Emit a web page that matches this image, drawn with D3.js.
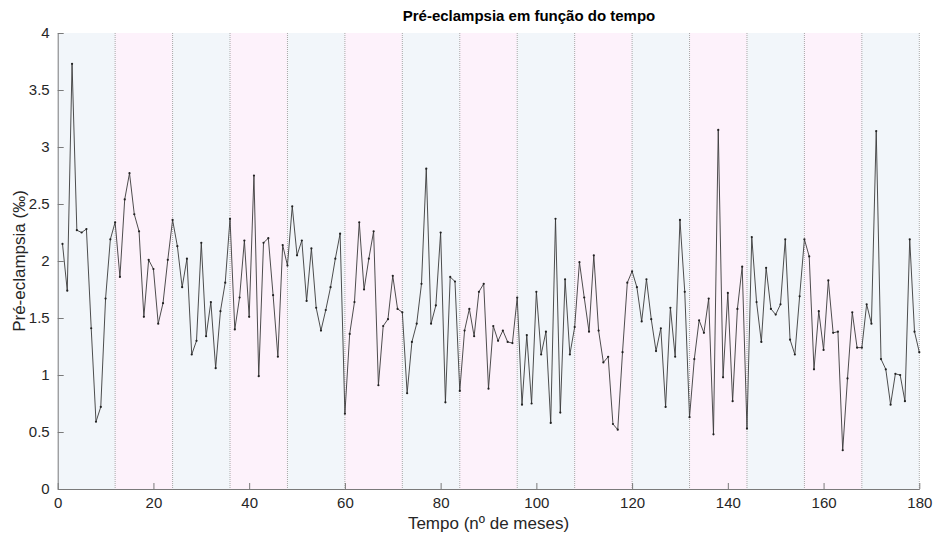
<!DOCTYPE html>
<html>
<head>
<meta charset="utf-8">
<script src="https://cdn.jsdelivr.net/npm/d3@7"></script>
<style>
  html, body { margin: 0; padding: 0; background: #ffffff; }
  svg { display: block; font-family: "Liberation Sans", Arial, sans-serif; }
</style>
</head>
<body>
<svg id="chart" width="935" height="536"></svg>
<script>
// Monthly pre-eclampsia rate (‰), months 1..180
const months = d3.range(1, 181);
const values = [
  2.15, 1.74, 3.73, 2.27, 2.25, 2.28, 1.41, 0.59, 0.72, 1.67,
  2.19, 2.34, 1.86, 2.54, 2.77, 2.41, 2.26, 1.51, 2.01, 1.93,
  1.45, 1.63, 2.01, 2.36, 2.13, 1.77, 2.02, 1.18, 1.30, 2.16,
  1.34, 1.64, 1.06, 1.56, 1.81, 2.37, 1.40, 1.68, 2.18, 1.51,
  2.75, 0.99, 2.16, 2.20, 1.70, 1.16, 2.14, 1.96, 2.48, 2.05,
  2.18, 1.65, 2.11, 1.59, 1.39, 1.57, 1.77, 2.02, 2.24, 0.66,
  1.36, 1.64, 2.34, 1.75, 2.02, 2.26, 0.91, 1.43, 1.49, 1.87,
  1.58, 1.55, 0.84, 1.29, 1.45, 1.80, 2.81, 1.45, 1.61, 2.25,
  0.76, 1.86, 1.82, 0.86, 1.39, 1.58, 1.34, 1.73, 1.80, 0.88,
  1.43, 1.30, 1.39, 1.29, 1.28, 1.68, 0.74, 1.35, 0.75, 1.73,
  1.18, 1.38, 0.58, 2.37, 0.67, 1.84, 1.18, 1.42, 1.99, 1.68,
  1.38, 2.05, 1.39, 1.11, 1.16, 0.57, 0.52, 1.20, 1.81, 1.91,
  1.77, 1.47, 1.84, 1.49, 1.21, 1.41, 0.72, 1.59, 1.16, 2.36,
  1.73, 0.63, 1.14, 1.48, 1.37, 1.67, 0.48, 3.15, 0.98, 1.72,
  0.77, 1.58, 1.95, 0.53, 2.21, 1.64, 1.29, 1.94, 1.58, 1.53,
  1.62, 2.19, 1.31, 1.18, 1.69, 2.19, 2.04, 1.05, 1.56, 1.22,
  1.83, 1.37, 1.38, 0.34, 0.97, 1.55, 1.24, 1.24, 1.62, 1.45,
  3.14, 1.14, 1.05, 0.74, 1.01, 1.00, 0.77, 2.19, 1.38, 1.20
];
const xTicks = [0, 20, 40, 60, 80, 100, 120, 140, 160, 180];
const yTicks = [0, 0.5, 1, 1.5, 2, 2.5, 3, 3.5, 4];
// Year boundaries (every 12 months) with alternating shading
const yearStarts = d3.range(0, 180, 12);
const bandColors = ["#f2f6fa", "#fdf2fb"];

const svg = d3.select("#chart");

const x = d3.scaleLinear().domain([0, 180]).range([57.7, 919.3]);
const y = d3.scaleLinear().domain([0, 4]).range([489, 33]);

// Shaded year bands
svg.append("g").selectAll("rect")
  .data(yearStarts)
  .join("rect")
  .attr("x", d => x(d))
  .attr("y", y(4))
  .attr("width", d => x(d + 12) - x(d))
  .attr("height", y(0) - y(4))
  .attr("fill", (d, i) => bandColors[i % 2]);

// Dotted separators between years
svg.append("g").selectAll("line")
  .data(d3.range(12, 181, 12))
  .join("line")
  .attr("x1", d => x(d)).attr("x2", d => x(d))
  .attr("y1", y(4)).attr("y2", y(0))
  .attr("stroke", "#a8a8a8")
  .attr("stroke-width", 1)
  .attr("stroke-dasharray", "1,1");

// Axes (inward ticks, gray axis lines)
const axisColor = "#7a7a7a";
const xAxis = svg.append("g")
  .attr("transform", `translate(0,${y(0)})`)
  .call(d3.axisBottom(x).tickValues(xTicks).tickSizeInner(-6).tickSizeOuter(0).tickPadding(8)
    .tickFormat(d3.format("d")));
xAxis.select(".domain").attr("stroke", axisColor);
xAxis.selectAll(".tick line").attr("stroke", axisColor);
xAxis.selectAll(".tick text").attr("fill", "#262626").attr("font-size", 15)
  .attr("font-family", "Liberation Sans, Arial, sans-serif");

const yAxis = svg.append("g")
  .attr("transform", `translate(${x(0)},0)`)
  .call(d3.axisLeft(y).tickValues(yTicks).tickSizeInner(-6).tickSizeOuter(0).tickPadding(8)
    .tickFormat(d => d3.format("")(d)));
yAxis.select(".domain").attr("stroke", axisColor);
yAxis.selectAll(".tick line").attr("stroke", axisColor);
yAxis.selectAll(".tick text").attr("fill", "#262626").attr("font-size", 15)
  .attr("font-family", "Liberation Sans, Arial, sans-serif");

// Series line with point markers
const line = d3.line().x((d, i) => x(months[i])).y(d => y(d));
svg.append("path")
  .datum(values)
  .attr("fill", "none")
  .attr("stroke", "#3a3a3a")
  .attr("stroke-width", 0.9)
  .attr("d", line);

svg.append("g").selectAll("circle")
  .data(values)
  .join("circle")
  .attr("cx", (d, i) => x(months[i]))
  .attr("cy", d => y(d))
  .attr("r", 1.1)
  .attr("fill", "#222");

// Titles
svg.append("text")
  .attr("x", 529)
  .attr("y", 21)
  .attr("text-anchor", "middle")
  .attr("font-size", 15)
  .attr("font-weight", "bold")
  .attr("fill", "#000")
  .text("Pré-eclampsia em função do tempo");

svg.append("text")
  .attr("x", (x(0) + x(180)) / 2)
  .attr("y", 529)
  .attr("text-anchor", "middle")
  .attr("font-size", 17)
  .attr("fill", "#262626")
  .text("Tempo (nº de meses)");

svg.append("text")
  .attr("transform", `translate(25,${(y(0) + y(4)) / 2}) rotate(-90)`)
  .attr("text-anchor", "middle")
  .attr("font-size", 17)
  .attr("fill", "#262626")
  .text("Pré-eclampsia (‰)");
</script>
</body>
</html>
